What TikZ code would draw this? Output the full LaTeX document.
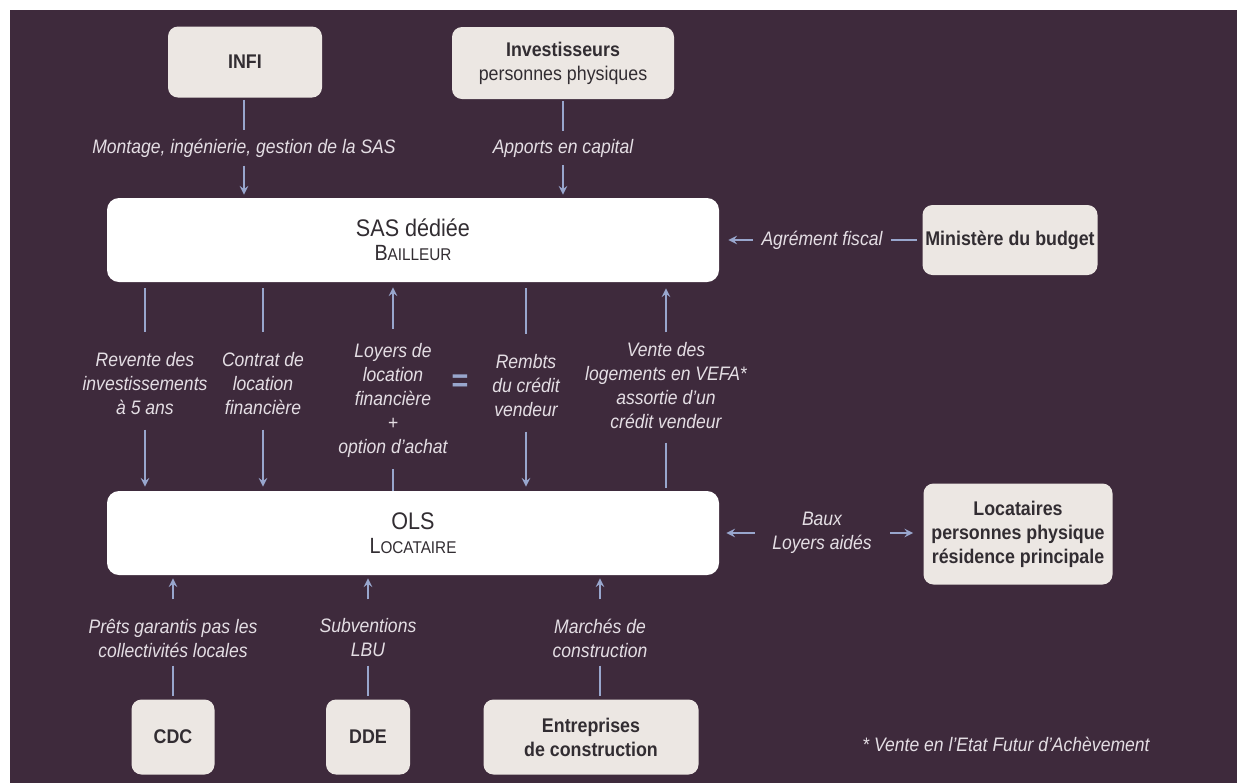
\documentclass[tikz,border=0pt]{standalone}
\usepackage{fontspec}
\setmainfont{Liberation Sans}[FakeStretch=0.9]
\usepackage{tikz}

\definecolor{fond}{RGB}{62,42,60}
\definecolor{boitefond}{RGB}{236,231,227}
\definecolor{fleche}{RGB}{152,166,205}
\definecolor{legendec}{RGB}{228,222,228}
\definecolor{texteboite}{RGB}{50,45,50}

\tikzset{
  boite/.style={fill=boitefond,rounded corners=5pt,text=texteboite,align=center,
    inner sep=0pt,font=\bfseries\fontsize{9.9}{12}\selectfont},
  cadre/.style={fill=white,rounded corners=6pt,text=texteboite,align=center,
    minimum width=306pt,minimum height=42pt,inner sep=0pt},
  legende/.style={text=legendec,align=center,inner sep=4pt,
    font=\itshape\fontsize{9.75}{12}\selectfont},
  flux/.style={draw=fleche,line width=0.9pt}
}

\begin{document}
\begin{tikzpicture}[x=0.5pt,y=-0.5pt,>=stealth]
  \useasboundingbox (0,0) rectangle (1237,783);
  \fill[fond] (10,10) rectangle (1237,783);
  % acteurs
  \node[boite,minimum width=77pt,minimum height=35.5pt] (infi) at (245,62) {INFI};
  \node[boite,minimum width=111pt,minimum height=36pt] (invest) at (563,63)
    {Investisseurs\\\mdseries personnes physiques};
  \node[boite,minimum width=87.5pt,minimum height=35pt] (ministere) at (1010,240) {Ministère du budget};
  \node[boite,minimum width=94.5pt,minimum height=50.5pt] (locataires) at (1018,534)
    {Locataires\\personnes physique\\résidence principale};
  \node[boite,minimum width=41.5pt,minimum height=37.5pt] (cdc) at (173,737) {CDC};
  \node[boite,minimum width=42pt,minimum height=37.5pt] (dde) at (368,737) {DDE};
  \node[boite,minimum width=107.5pt,minimum height=37.5pt] (entreprises) at (591,737)
    {Entreprises\\de construction};
  \node[cadre] (sas) at (413,240) {\fontsize{12}{14}\selectfont SAS dédiée\\
    \fontsize{11}{14}\selectfont B{\fontsize{8.5}{14}\selectfont AILLEUR}};
  \node[cadre] (ols) at (413,533) {\fontsize{12}{14}\selectfont OLS\\
    \fontsize{11}{14}\selectfont L{\fontsize{8.5}{14}\selectfont OCATAIRE}};
  % libelles
  \node[legende] (montage) at (244,148) {Montage, ingénierie, gestion de la SAS};
  \node[legende] (apports) at (563,148) {Apports en capital};
  \node[legende] (agrement) at (822,240) {Agrément fiscal};
  \node[legende] (revente) at (145,384) {Revente des\\investissements\\à 5 ans};
  \node[legende] (contrat) at (263,384) {Contrat de\\location\\financière};
  \node[legende] (loyers) at (393,400) {Loyers de\\location\\financière\\+\\option d'achat};
  \node[text=fleche,font=\bfseries\fontsize{16}{16}\selectfont] (egal) at (460,383) {=};
  \node[legende] (rembts) at (526,386) {Rembts\\du crédit\\vendeur};
  \node[legende] (vente) at (666,386) {Vente des\\logements en VEFA*\\assortie d'un\\crédit vendeur};
  \node[legende] (baux) at (822,533) {Baux\\Loyers aidés};
  \node[legende] (prets) at (173,638) {Prêts garantis pas les\\collectivités locales};
  \node[legende] (subv) at (368,638) {Subventions\\LBU};
  \node[legende] (marches) at (600,638) {Marchés de\\construction};
  \node[legende] (note) at (1006,744) {* Vente en l'Etat Futur d'Achèvement};
  % fleches du haut
  \draw[flux,shorten <=1pt] (montage |- infi.south) -- (montage.north);
  \draw[flux,->,shorten >=1.5pt] (montage.south) -- (montage |- sas.north);
  \draw[flux,shorten <=1pt] (invest.south) -- (apports.north);
  \draw[flux,->,shorten >=1.5pt] (apports.south) -- (apports |- sas.north);
  \draw[flux,->,shorten >=4.5pt] (agrement.west) -- (sas.east);
  \draw[flux,shorten >=2.5pt] (agrement.east) -- (ministere.west);
  % fleches entre SAS et OLS
  \draw[flux,shorten <=3pt,shorten >=6pt] (revente |- sas.south) -- (revente.north);
  \draw[flux,->,shorten <=3pt,shorten >=2pt] (revente.south) -- (revente |- ols.north);
  \draw[flux,shorten <=3pt,shorten >=6pt] (contrat |- sas.south) -- (contrat.north);
  \draw[flux,->,shorten <=3pt,shorten >=2pt] (contrat.south) -- (contrat |- ols.north);
  \draw[flux,->,shorten <=3pt,shorten >=2.5pt] (loyers.north) -- (loyers |- sas.south);
  \draw[flux,shorten <=2pt] (loyers.south) -- (loyers |- ols.north);
  \draw[flux,shorten <=3pt,shorten >=6pt] (rembts |- sas.south) -- (rembts.north);
  \draw[flux,->,shorten <=3pt,shorten >=2pt] (rembts.south) -- (rembts |- ols.north);
  \draw[flux,->,shorten <=1pt,shorten >=3pt] (vente.north) -- (vente |- sas.south);
  \draw[flux,shorten <=2.5pt,shorten >=1.5pt] (vente.south) -- (vente |- ols.north);
  \draw[flux,->,shorten <=4.5pt,shorten >=3.5pt] (baux.west) -- (ols.east);
  \draw[flux,->,shorten <=5pt,shorten >=5pt] (baux.east) -- (baux -| locataires.west);
  % fleches du bas
  \draw[flux,->,shorten <=5.5pt,shorten >=1.5pt] (prets.north) -- (prets |- ols.south);
  \draw[flux,shorten >=1.5pt] (prets.south) -- (prets |- cdc.north);
  \draw[flux,->,shorten <=5.5pt,shorten >=1.5pt] (subv.north) -- (subv |- ols.south);
  \draw[flux,shorten >=1.5pt] (subv.south) -- (subv |- dde.north);
  \draw[flux,->,shorten <=5.5pt,shorten >=1.5pt] (marches.north) -- (marches |- ols.south);
  \draw[flux,shorten >=1.5pt] (marches.south) -- (marches |- entreprises.north);
\end{tikzpicture}
\end{document}
